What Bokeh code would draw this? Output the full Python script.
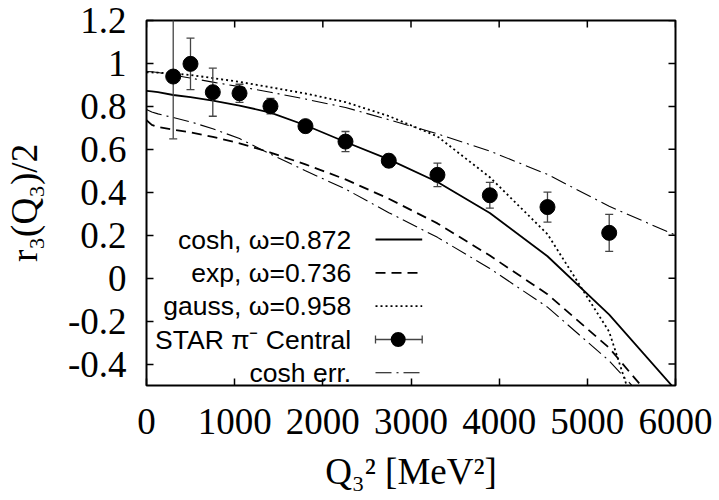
import math
from bokeh.plotting import figure
from bokeh.models import (FixedTicker, Label, Arrow, TeeHead, BoxAnnotation, Range1d)
from bokeh.embed import file_html
from bokeh.resources import INLINE

# ---------------- data ----------------
q2 = [303, 499, 752, 1055, 1406, 1803, 2257, 2748, 3300, 3894, 4548, 5248]
r3 = [0.939, 0.998, 0.866, 0.861, 0.801, 0.708, 0.636, 0.547, 0.481, 0.386, 0.331, 0.211]
r3_err = [0.29, 0.12, 0.112, 0.042, 0.036, 0.012, 0.047, 0.029, 0.055, 0.06, 0.07, 0.086]

curve_q2 = [0, 60, 130, 303, 499, 752, 1055, 1406, 1803, 2257, 2748, 3300, 3894, 4548, 5248, 6000]
cosh_fit = [0.872, 0.870, 0.866, 0.853, 0.843, 0.827, 0.804, 0.771, 0.712, 0.634, 0.553, 0.448,
            0.303, 0.102, -0.17, -0.52]
exp_fit = [0.736, 0.714, 0.704, 0.692, 0.679, 0.658, 0.628, 0.585, 0.53, 0.46, 0.37, 0.255,
           0.105, -0.075, -0.325, -0.69]
gauss_fit = [0.958, 0.958, 0.957, 0.953, 0.946, 0.932, 0.914, 0.889, 0.86, 0.82, 0.755, 0.66,
             0.47, 0.205, -0.25, -1.2]
cosh_err_hi = [0.962, 0.961, 0.958, 0.946, 0.932, 0.913, 0.892, 0.866, 0.834, 0.795, 0.738,
               0.672, 0.592, 0.483, 0.335, 0.2]
cosh_err_lo = [0.785, 0.774, 0.765, 0.748, 0.728, 0.696, 0.65, 0.578, 0.5, 0.415, 0.305, 0.19,
               0.045, -0.135, -0.385, -0.72]

x_ticks = [0, 1000, 2000, 3000, 4000, 5000, 6000]
x_tick_labels = ["0", "1000", "2000", "3000", "4000", "5000", "6000"]
y_ticks = [-0.4, -0.2, 0, 0.2, 0.4, 0.6, 0.8, 1, 1.2]
y_tick_labels = ["-0.4", "-0.2", "0", "0.2", "0.4", "0.6", "0.8", "1", "1.2"]

legend_labels = ["cosh, \u03c9=0.872", "exp, \u03c9=0.736", "gauss, \u03c9=0.958",
                 "STAR \u03c0\u207b Central", "cosh err."]

x_title = "Q\u2083\u00b2 [MeV\u00b2]"
y_title = "r\u2083(Q\u2083)/2"

# ---------------- figure ----------------
SERIF = "Liberation Serif"
SANS = "Liberation Sans"
X0, X1 = 0, 6000
Y0, Y1 = -0.5, 1.2

p = figure(width=719, height=500,
           x_range=Range1d(X0, X1), y_range=Range1d(Y0, Y1),
           output_backend="svg", toolbar_location=None,
           min_border_left=146, min_border_right=44,
           min_border_top=20, min_border_bottom=115,
           x_axis_label=x_title, y_axis_label=y_title)
p.grid.visible = False
p.background_fill_color = "white"
p.border_fill_color = "white"
p.outline_line_color = "black"
p.outline_line_width = 2
p.outline_line_alpha = 1

# curves
p.line(curve_q2, cosh_fit, line_color="black", line_width=1.8)
p.line(curve_q2, exp_fit, line_color="black", line_width=1.8, line_dash="10 6")
p.line(curve_q2, gauss_fit, line_color="black", line_width=1.8, line_dash="2 3")
p.line(curve_q2, cosh_err_hi, line_color="black", line_width=1.1, line_dash="16 5 2 5")
p.line(curve_q2, cosh_err_lo, line_color="black", line_width=1.1, line_dash="16 5 2 5")

# data with error bars
lo = [v - e for v, e in zip(r3, r3_err)]
hi = [v + e for v, e in zip(r3, r3_err)]
p.segment(q2, lo, q2, hi, line_color="#444444", line_width=1.3)
p.scatter(q2, hi, marker="dash", size=8, line_color="#444444", line_width=1.3)
p.scatter(q2, lo, marker="dash", size=8, line_color="#444444", line_width=1.3)
p.scatter(q2, r3, marker="circle", size=15, fill_color="black", line_color="black")

# mirror ticks on top and right (inward)
p.ray(x=x_ticks, y=[Y1] * len(x_ticks), length=7, length_units="screen",
      angle=-math.pi / 2, line_color="black", line_width=1.5)
p.ray(x=[X1] * len(y_ticks), y=y_ticks, length=7, length_units="screen",
      angle=math.pi, line_color="black", line_width=1.5)

# axes
def style_axis(ax):
    ax.major_tick_in = 7
    ax.major_tick_out = 0
    ax.minor_tick_line_color = None
    ax.axis_line_color = None
    ax.major_tick_line_color = "black"
    ax.major_tick_line_width = 1.5
    ax.major_label_text_font = SERIF
    ax.major_label_text_font_size = "37px"
    ax.major_label_text_color = "black"
    ax.axis_label_text_font = SERIF
    ax.axis_label_text_font_style = "normal"
    ax.axis_label_text_font_size = "37px"
    ax.axis_label_text_color = "black"

xa = p.xaxis[0]
xa.ticker = FixedTicker(ticks=x_ticks)
xa.major_label_overrides = {t: l for t, l in zip(x_ticks, x_tick_labels)}
style_axis(xa)
xa.major_label_standoff = 23
xa.axis_label_standoff = 14

ya = p.yaxis[0]
ya.ticker = FixedTicker(ticks=y_ticks)
ya.major_label_overrides = {t: l for t, l in zip(y_ticks, y_tick_labels)}
style_axis(ya)
ya.major_label_standoff = 20
ya.axis_label_standoff = 20

# legend (drawn in screen units, relative to the plot frame)
row_y = [146, 112.7, 79.3, 46, 12.7]
text_x = 204.7
s0, s1, sdot = 229, 275.7, 251.7
dashes = ["solid", "10 6", "2 3", None, "16 5 2 5"]
widths = [1.8, 1.8, 1.8, None, 1.1]
for lab, yy, dsh, w in zip(legend_labels, row_y, dashes, widths):
    p.add_layout(Label(x=text_x, y=yy, x_units="screen", y_units="screen", text=lab,
                       text_align="right", text_baseline="middle",
                       text_font=SANS, text_font_size="26.5px", text_color="black"))
    if dsh is not None:
        p.add_layout(Arrow(x_start=s0, y_start=yy, x_end=s1, y_end=yy,
                           start_units="screen", end_units="screen",
                           start=None, end=None, line_color="black",
                           line_width=w, line_dash=dsh))
    else:
        p.add_layout(Arrow(x_start=s0, y_start=yy, x_end=s1, y_end=yy,
                           start_units="screen", end_units="screen",
                           start=TeeHead(size=8, line_color="#444444", line_width=1.3),
                           end=TeeHead(size=8, line_color="#444444", line_width=1.3),
                           line_color="#444444", line_width=1.3))
        p.add_layout(BoxAnnotation(left=sdot - 7.5, right=sdot + 7.5,
                                   bottom=yy - 7.5, top=yy + 7.5,
                                   left_units="screen", right_units="screen",
                                   bottom_units="screen", top_units="screen",
                                   border_radius=8, fill_color="black", fill_alpha=1,
                                   line_color=None))

open("out.html", "w").write(file_html(p, INLINE))
